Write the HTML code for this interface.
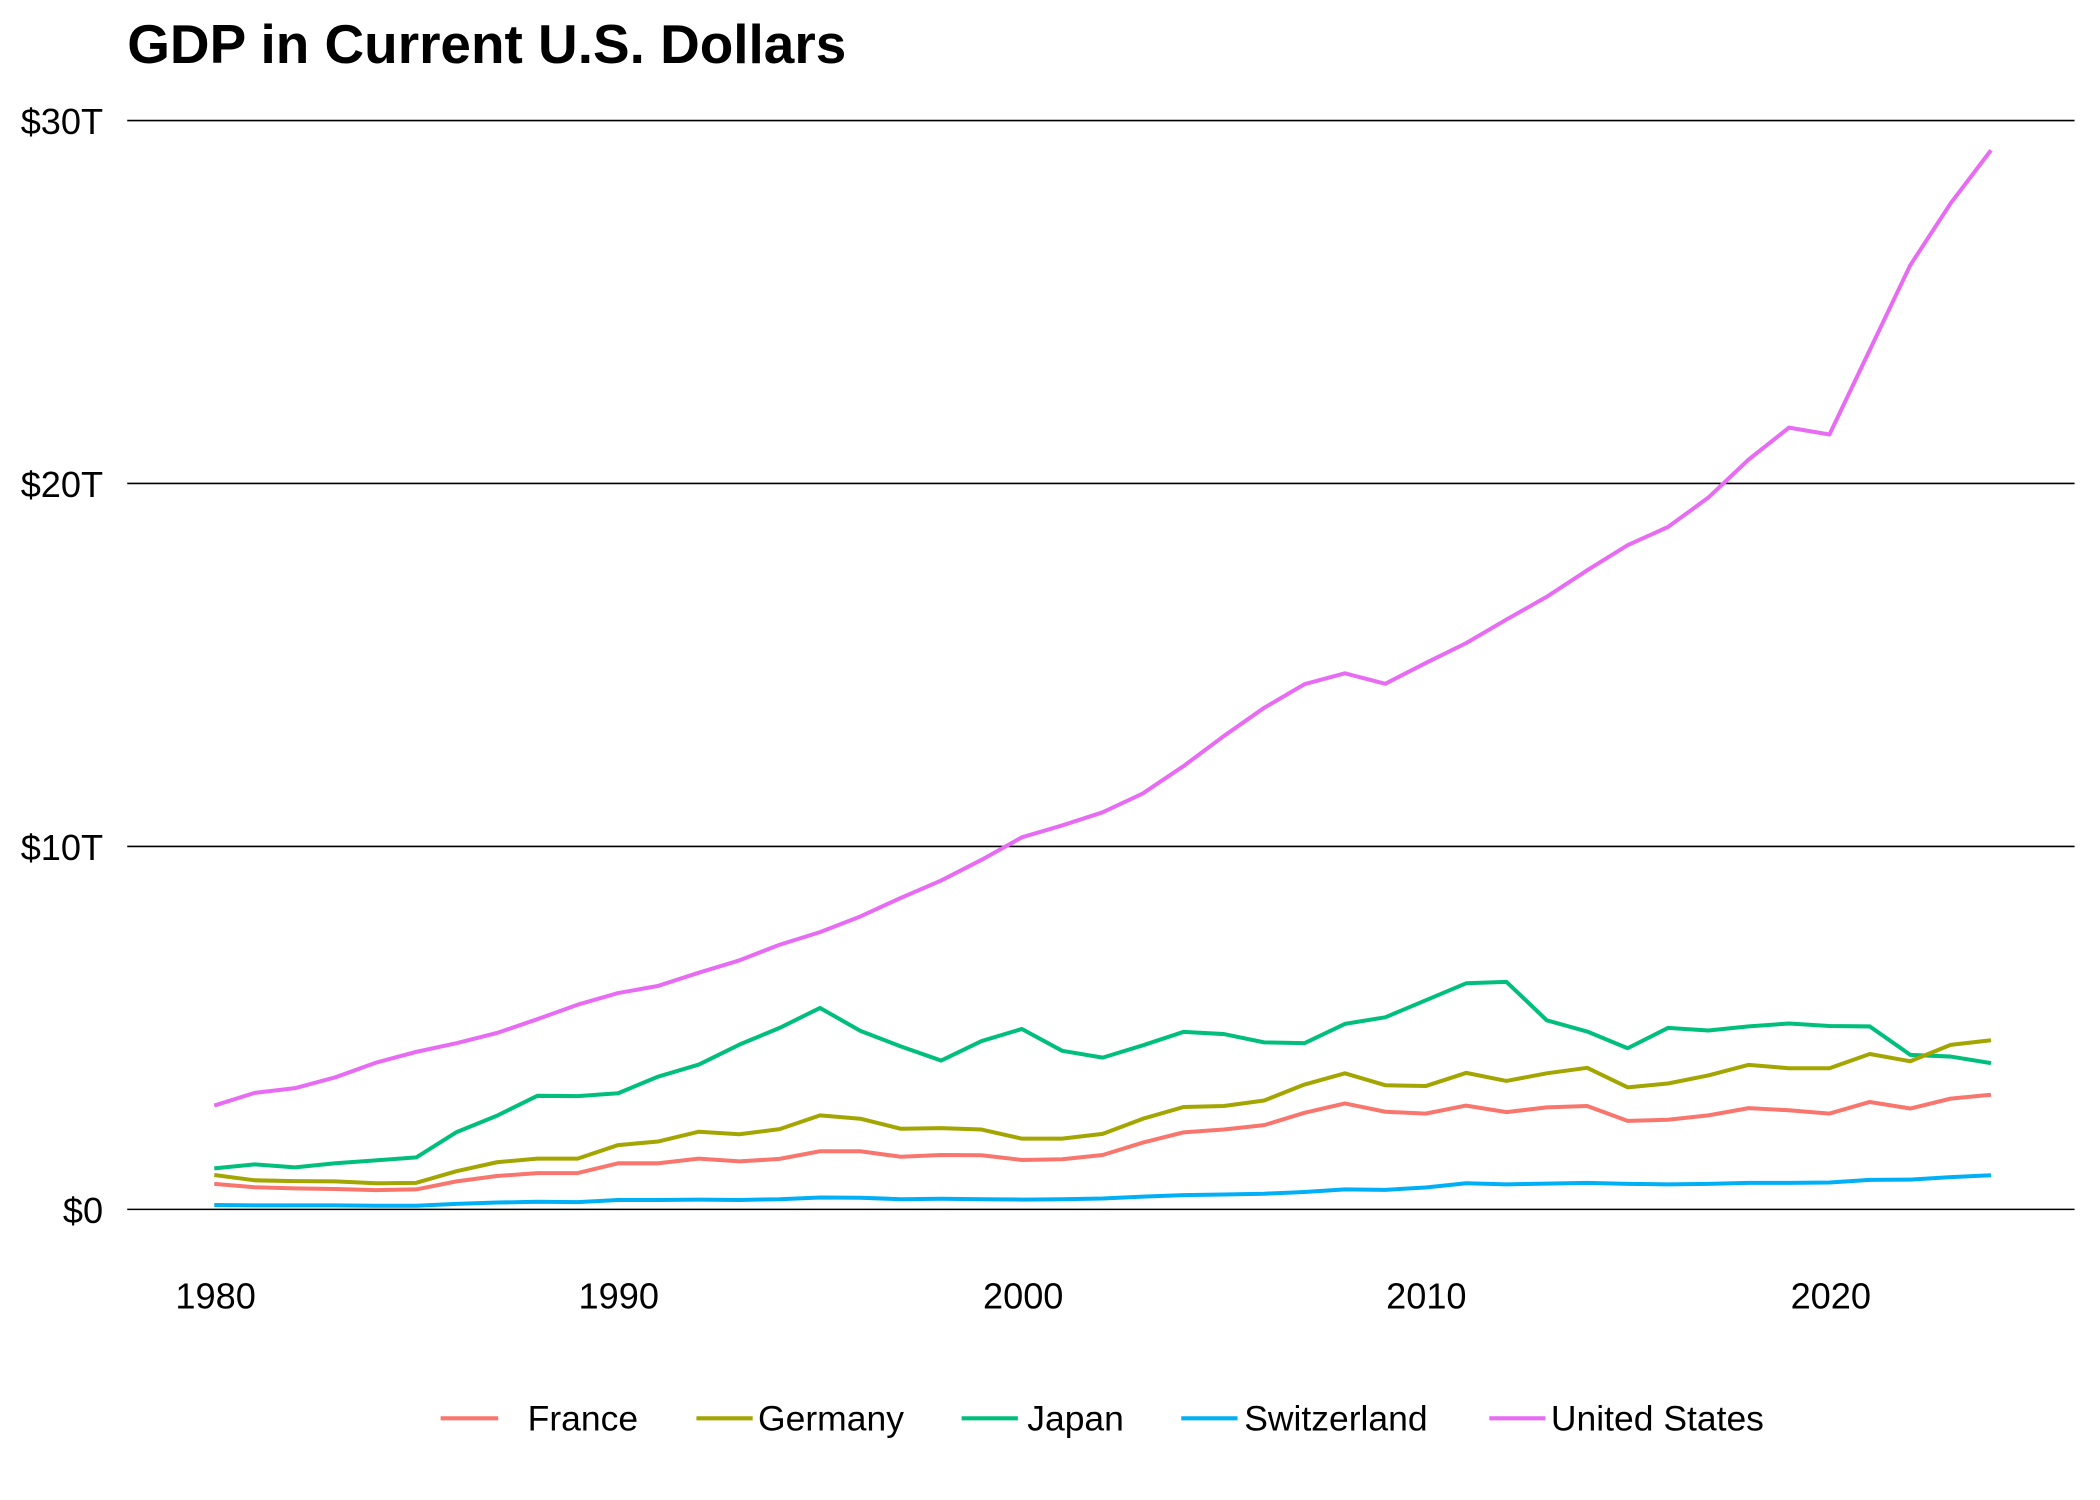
<!DOCTYPE html>
<html><head><style>html,body{margin:0;padding:0;background:#fff;}svg{display:block}</style></head>
<body>
<svg id="c" width="2100" height="1500" viewBox="0 0 1568 1120" preserveAspectRatio="xMinYMin meet" xmlns="http://www.w3.org/2000/svg" font-family="Liberation Sans, Arial, sans-serif">
<rect width="1568" height="1120" fill="#fff"/>
<text x="95" y="47" font-size="41" font-weight="bold">GDP in Current U.S. Dollars</text>
<g stroke="#000" stroke-width="1.2">
<line x1="95" x2="1549" y1="90" y2="90"/><line x1="95" x2="1549" y1="361" y2="361"/>
<line x1="95" x2="1549" y1="632" y2="632"/><line x1="95" x2="1549" y1="903" y2="903"/>
</g>
<g font-size="27" text-anchor="end">
<text x="77" y="100">$30T</text><text x="77" y="371">$20T</text><text x="77" y="642">$10T</text><text x="77" y="913">$0</text>
</g>
<g font-size="27" text-anchor="middle">
<text x="161" y="977">1980</text><text x="462" y="977">1990</text><text x="764" y="977">2000</text><text x="1065" y="977">2010</text><text x="1367" y="977">2020</text>
</g>
<g id="lines" fill="none" stroke-width="3" stroke-linejoin="round"></g>
<g stroke-width="3">
<line x1="329" x2="372" y1="1059" y2="1059" stroke="#F8766D"/>
<line x1="520" x2="562" y1="1059" y2="1059" stroke="#A3A500"/>
<line x1="718" x2="760" y1="1059" y2="1059" stroke="#00BF7D"/>
<line x1="882" x2="924" y1="1059" y2="1059" stroke="#00B0F6"/>
<line x1="1112" x2="1154" y1="1059" y2="1059" stroke="#E76BF3"/>
</g>
<g font-size="26.5">
<text x="394" y="1068">France</text><text x="566" y="1068">Germany</text><text x="767" y="1068">Japan</text><text x="929" y="1068">Switzerland</text><text x="1158" y="1068">United States</text>
</g>
</svg>
<script>
var d={
"#E76BF3":[2.86,3.21,3.34,3.64,4.04,4.34,4.58,4.86,5.24,5.64,5.96,6.16,6.52,6.86,7.29,7.64,8.07,8.58,9.06,9.63,10.25,10.58,10.94,11.46,12.21,13.04,13.82,14.47,14.77,14.48,15.05,15.6,16.25,16.88,17.61,18.3,18.8,19.61,20.66,21.54,21.35,23.68,26.01,27.72,29.18],
"#00BF7D":[1.13,1.24,1.16,1.27,1.35,1.43,2.13,2.58,3.13,3.12,3.2,3.66,3.99,4.54,5.0,5.55,4.92,4.49,4.1,4.64,4.97,4.37,4.18,4.52,4.89,4.83,4.6,4.58,5.11,5.29,5.76,6.23,6.27,5.21,4.9,4.44,5.0,4.93,5.04,5.12,5.05,5.04,4.26,4.21,4.03],
"#A3A500":[0.95,0.8,0.78,0.77,0.72,0.73,1.05,1.3,1.4,1.4,1.77,1.87,2.14,2.07,2.21,2.59,2.5,2.22,2.24,2.2,1.95,1.95,2.08,2.5,2.82,2.85,3.0,3.44,3.75,3.42,3.4,3.76,3.54,3.75,3.9,3.36,3.47,3.69,3.98,3.89,3.89,4.28,4.08,4.53,4.66],
"#F8766D":[0.7,0.61,0.58,0.56,0.53,0.55,0.77,0.92,1.0,1.0,1.27,1.27,1.4,1.32,1.39,1.6,1.6,1.45,1.5,1.49,1.36,1.38,1.5,1.84,2.12,2.2,2.32,2.66,2.92,2.69,2.64,2.86,2.68,2.81,2.85,2.44,2.47,2.59,2.79,2.73,2.64,2.96,2.78,3.05,3.16],
"#00B0F6":[0.12,0.11,0.11,0.11,0.1,0.1,0.15,0.19,0.21,0.2,0.26,0.26,0.27,0.26,0.28,0.33,0.32,0.28,0.29,0.28,0.27,0.28,0.3,0.35,0.39,0.41,0.43,0.48,0.55,0.54,0.6,0.72,0.69,0.71,0.73,0.7,0.69,0.7,0.73,0.73,0.74,0.81,0.82,0.89,0.94]};
var g=document.getElementById('lines'),ns='http://www.w3.org/2000/svg';
for(var c in d){var p=d[c].map(function(v,i){return (160+i*30.15).toFixed(1)+','+(903-v*27.1).toFixed(1)}).join(' ');
var e=document.createElementNS(ns,'polyline');e.setAttribute('points',p);e.setAttribute('stroke',c);g.appendChild(e);}
</script>
</body></html>
